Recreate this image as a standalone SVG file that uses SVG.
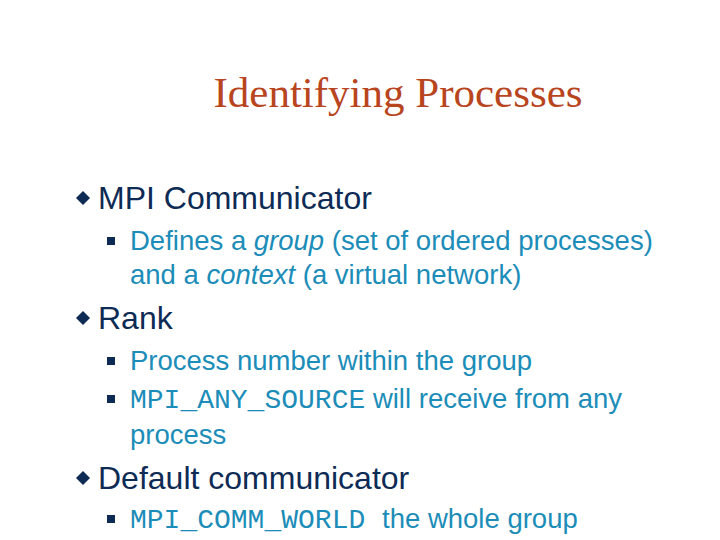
<svg xmlns="http://www.w3.org/2000/svg" width="720" height="540" viewBox="0 0 720 540">
<style>
.t{font-family:"Liberation Serif",serif;font-size:43px;fill:#B8451E}
.l1{font-family:"Liberation Sans",sans-serif;font-size:32px;fill:#0E2B55}
.l2{font-family:"Liberation Sans",sans-serif;font-size:27.5px;fill:#1C8DB8}
.m{font-family:"Liberation Mono",monospace;font-size:28px}
.d{fill:#0E2B55}
</style>
<rect width="720" height="540" fill="#fff"/>
<text class="t" x="398" y="107" text-anchor="middle">Identifying Processes</text>
<g class="d">
<path d="M83 191l7 7-7 7-7-7z"/>
<path d="M83 311l7 7-7 7-7-7z"/>
<path d="M83 471l7 7-7 7-7-7z"/>
<rect x="107" y="237" width="8" height="8"/>
<rect x="107" y="357" width="8" height="8"/>
<rect x="107" y="395" width="8" height="8"/>
<rect x="107" y="515" width="8" height="8"/>
</g>
<text class="l1" x="98" y="209">MPI Communicator</text>
<text class="l2" x="130" y="250">Defines a <tspan font-style="italic">group</tspan> (set of ordered processes)</text>
<text class="l2" x="130" y="284">and a <tspan font-style="italic">context</tspan> (a virtual network)</text>
<text class="l1" x="98" y="329">Rank</text>
<text class="l2" x="130" y="370">Process number within the group</text>
<text class="l2" x="130" y="408"><tspan class="m">MPI_ANY_SOURCE</tspan> will receive from any</text>
<text class="l2" x="130" y="444">process</text>
<text class="l1" x="98" y="489">Default communicator</text>
<text class="l2" x="130" y="528"><tspan class="m">MPI_COMM_WORLD </tspan>the whole group</text>
</svg>
